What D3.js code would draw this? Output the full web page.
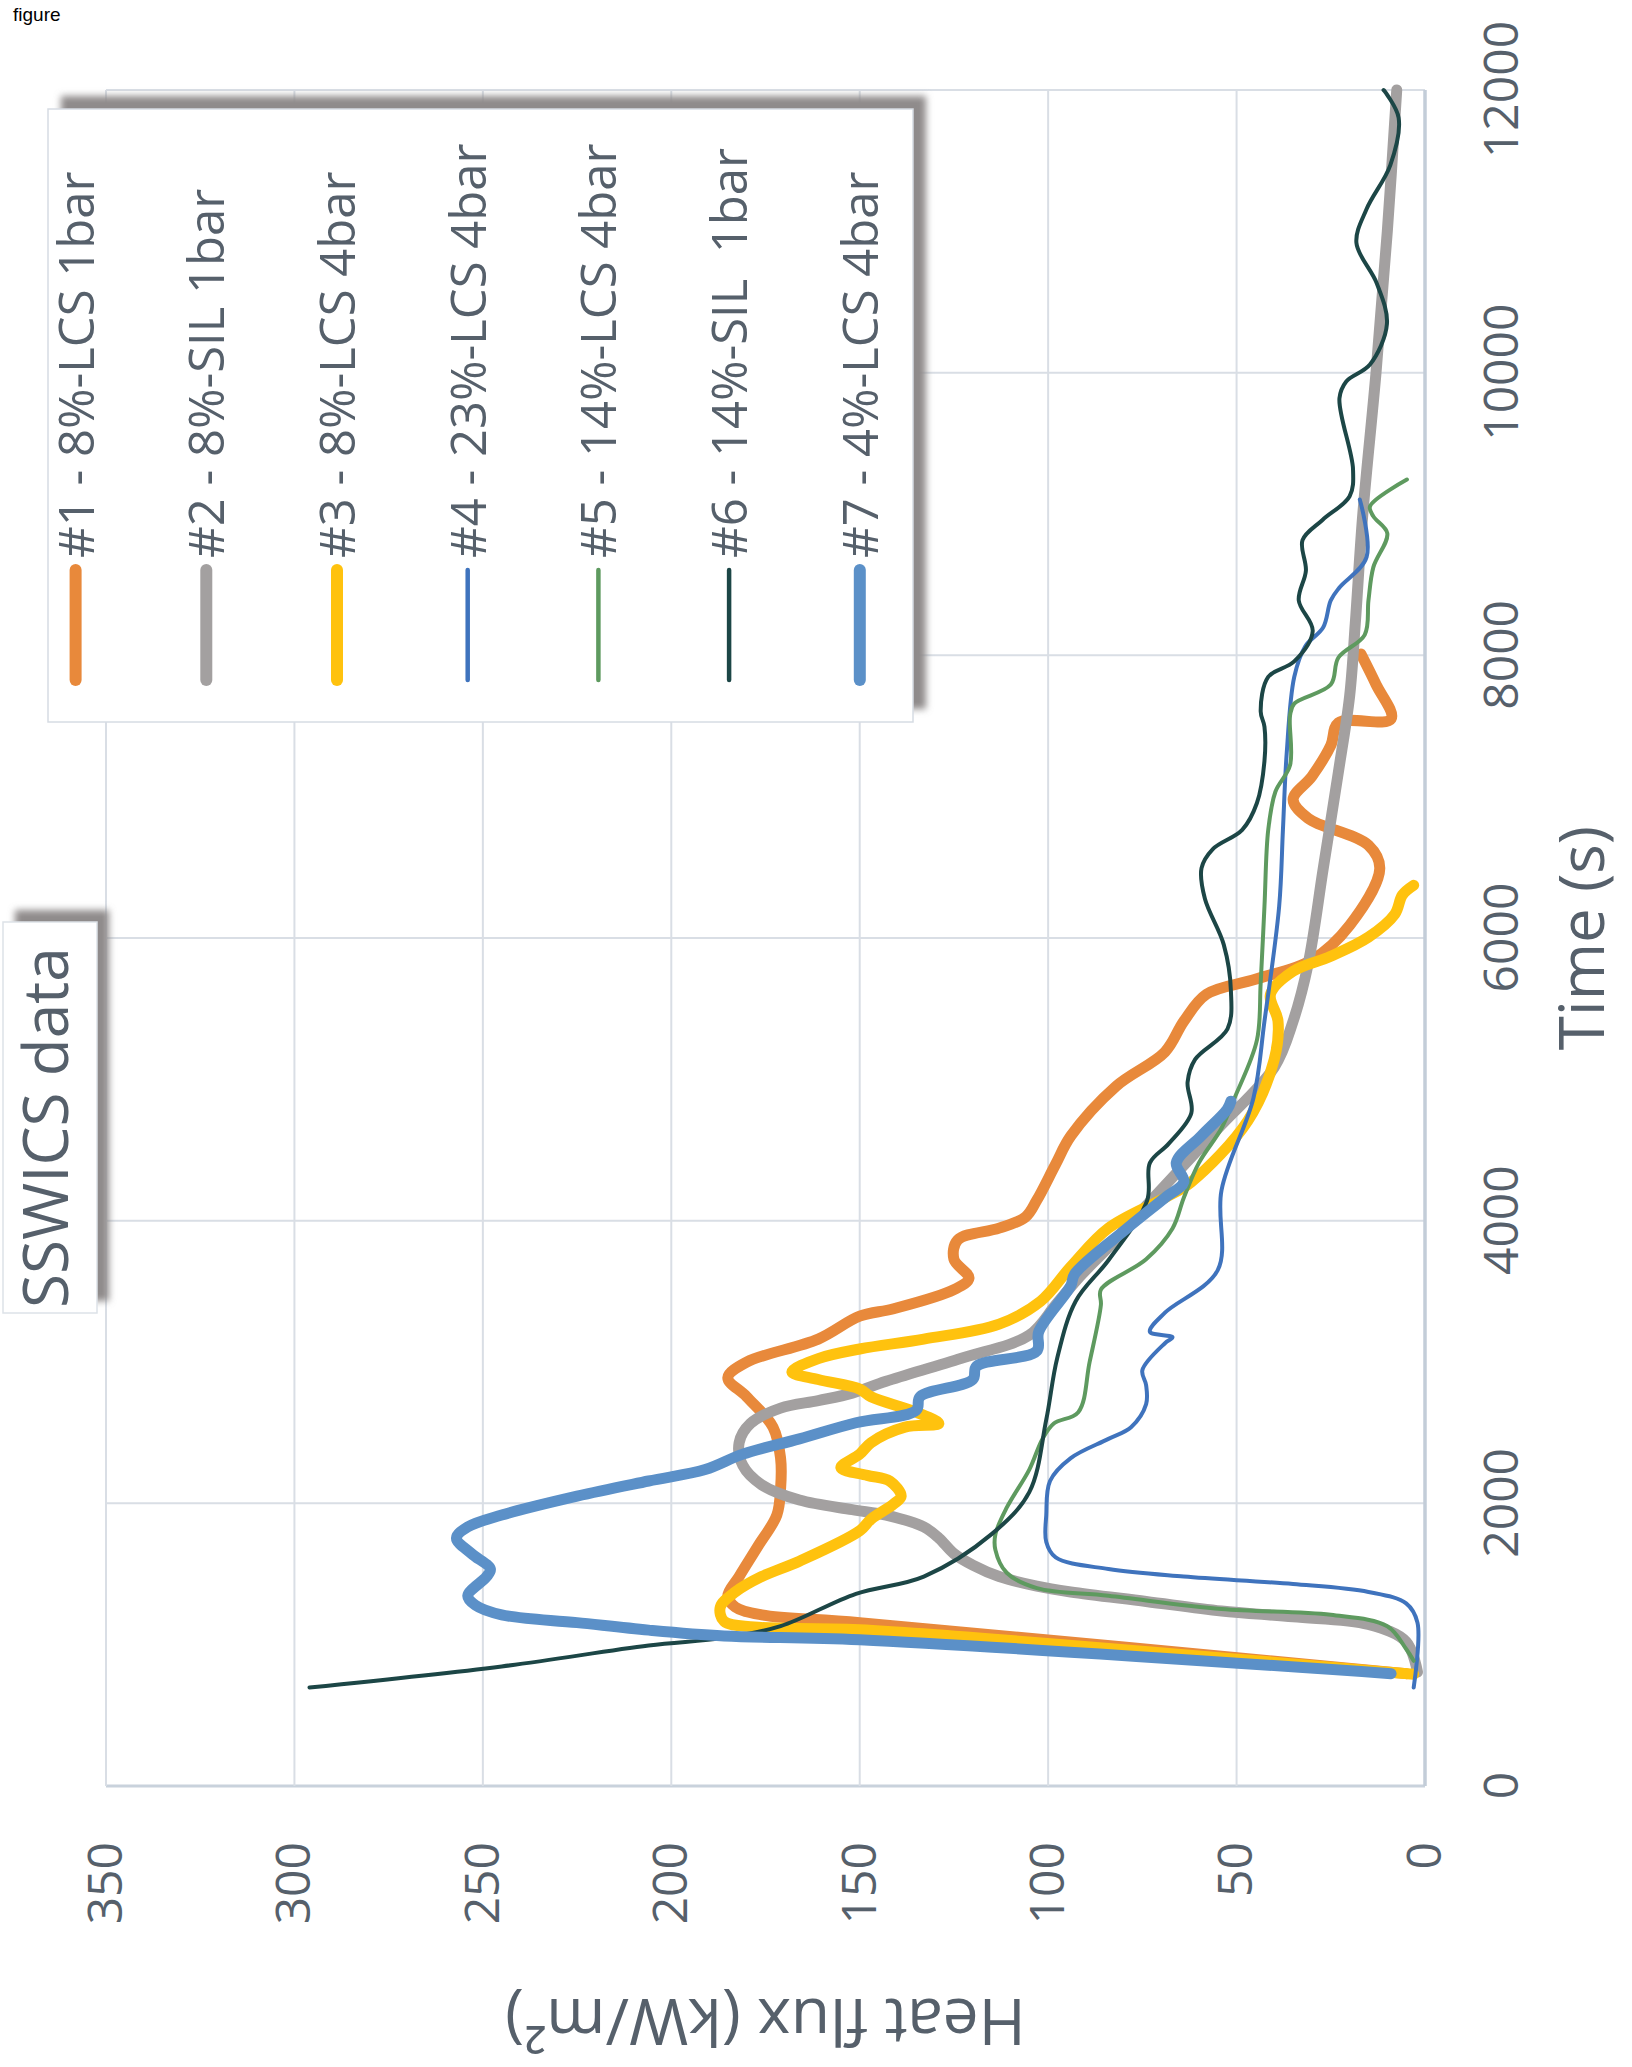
<!DOCTYPE html>
<html>
<head>
<meta charset="utf-8">
<script src="https://cdn.jsdelivr.net/npm/d3@7"></script>
<style>
  html, body { margin: 0; padding: 0; background: #ffffff; }
  svg { display: block; }
</style>
</head>
<body>
<svg id="chart" width="1632" height="2067"></svg>
<script>
// ---- data -------------------------------------------------------------
const timeTicks = [0, 2000, 4000, 6000, 8000, 10000, 12000];
const fluxTicks = [0, 50, 100, 150, 200, 250, 300, 350];

const seriesNames = [
  "#1 - 8%-LCS 1bar",
  "#2 - 8%-SIL 1bar",
  "#3 - 8%-LCS 4bar",
  "#4 - 23%-LCS 4bar",
  "#5 - 14%-LCS 4bar",
  "#6 - 14%-SIL  1bar",
  "#7 - 4%-LCS 4bar"
];

// [time (s), heat flux (kW/m2)]
const s1 = [[795,5],[1156,150],[1211,176],[1266,183],[1346,185],[1482,182],[1697,177],[1917,172],[2104,171],[2320,171],[2539,173],[2754,180],[2889,185],[2999,180],[3162,161],[3324,150],[3377,141],[3512,125],[3593,121],[3727,125],[3863,124],[3947,113],[4026,106],[4145,103],[4400,98],[4599,94],[4951,82],[5194,69],[5411,64],[5602,58],[5708,45],[5845,30],[6090,20],[6493,12],[6656,15],[6847,31],[6981,35],[7144,30],[7363,25],[7522,23],[7550,9],[7794,13],[8009,17]];
const s2 = [[806,2],[1021,5],[1143,15],[1197,35],[1238,54],[1306,74],[1373,94],[1414,103],[1482,113],[1563,120],[1644,125],[1754,129],[1833,133],[1917,143],[1955,152],[2023,166],[2131,176],[2267,181],[2429,182],[2565,179],[2674,171],[2727,161],[2780,152],[2864,143],[3027,123],[3190,105],[3404,98],[3593,92],[3812,84],[4162,72],[4650,55],[5086,40],[5411,35],[5817,31],[6493,27],[7171,23],[7712,20],[8226,18.5],[9000,16.5],[10000,13],[11000,10],[12000,7.5]];
const s3 = [[790,3],[1105,150],[1125,178],[1165,186],[1266,187],[1373,183],[1482,176],[1591,166],[1806,150],[1888,147],[1995,141],[2051,139],[2157,142],[2198,148],[2253,155],[2348,150],[2429,147],[2539,138],[2565,129],[2645,135],[2754,147],[2808,150],[2876,161],[2930,168],[3024,161],[3092,150],[3162,133],[3268,113],[3430,102],[3674,94],[3947,84],[4162,69],[4274,62],[4707,47],[5142,40],[5411,39],[5602,41],[5765,35],[5871,25],[6006,15],[6169,8],[6304,6],[6373,3]];
const s4 = [[697,3],[1156,2],[1292,5],[1373,15],[1429,35],[1482,64],[1535,84],[1617,98],[1726,100.5],[1917,100.5],[2158,99.5],[2320,94],[2456,84],[2539,78],[2702,74],[2836,74],[2942,75],[3133,69],[3175,67],[3214,73],[3349,69],[3650,55],[4215,54],[4870,45.5],[5411,42.6],[6224,38.7],[6765,37.7],[7306,36.7],[7847,34.7],[8063,31.8],[8199,27],[8389,25],[8480,22.7],[8695,15.5],[9103,17.3]];
const s5 = [[886,3],[969,5],[1130,10],[1211,25],[1252,54],[1346,84],[1400,103],[1509,111],[1671,114],[1780,114],[1969,111],[2239,105],[2456,101.5],[2565,98.5],[2645,92],[2999,89],[3404,86],[3512,86],[3727,74],[3945,67],[4162,64],[4409,60],[4654,54],[4870,50.5],[5277,44.6],[5682,43.6],[6224,42.6],[6765,41.6],[7035,39.7],[7224,35.8],[7577,35.8],[7658,34.7],[7793,25],[7983,23],[8145,16],[8389,15],[8624,13.7],[8863,10],[8983,13.7],[9054,14.6],[9244,4.8]];
const s6 = [[697,296],[846,245],[994,206],[1048,186],[1131,171],[1360,151],[1482,133],[1782,115],[2079,105],[2592,100.5],[3027,97.6],[3430,92.7],[3727,83.8],[4145,73.7],[4409,73],[4545,68],[4762,62],[4979,63],[5141,61],[5357,52.4],[5627,51.5],[5953,53.4],[6277,58.4],[6494,59.3],[6629,56.3],[6765,48.5],[6955,44.6],[7252,42.6],[7495,42.6],[7603,43.6],[7847,41.6],[7957,34.7],[8172,29.8],[8389,33.5],[8600,31.6],[8815,32.5],[8958,27.2],[9126,20],[9317,19.1],[9819,22.7],[9938,20.9],[10058,14.6],[10345,10.1],[10632,12.8],[10918,18.2],[11158,15.5],[11469,9.2],[11804,7],[12000,11]];
const s7 = [[795,9],[1035,150],[1062,186],[1103,206],[1156,225],[1211,245],[1280,252],[1346,254],[1482,249],[1535,248],[1644,253],[1754,257],[1833,254],[1917,245],[2051,225],[2158,206],[2239,191],[2348,181],[2456,166],[2570,151],[2659,135],[2754,134],[2876,120],[2970,119],[3079,103],[3214,102.5],[3539,94],[3621,93],[3947,79],[4162,69],[4274,64],[4409,66],[4599,59.4],[4788,52.5],[4845,51.5]];

const seriesData = [s1, s2, s3, s4, s5, s6, s7];

// ---- style -------------------------------------------------------------
const seriesColors = ["#E8893B", "#A3A0A0", "#FFC20E", "#3F73BD", "#5E9A5F", "#1C4646", "#5B90C8"];
const seriesWidths = [11, 11, 11, 4, 4, 4, 11];
const textColor = "#56606b";
const font = "'Open Sans', 'Noto Sans', sans-serif";

// ---- layout (chart is drawn in its own frame, then turned a quarter turn) ----
const svg = d3.select("#chart");
const PAGE_H = 2067;

svg.append("text")
  .attr("x", 13).attr("y", 21)
  .attr("font-family", "'Liberation Sans', Arial, sans-serif")
  .attr("font-size", 19)
  .attr("fill", "#000")
  .text("figure");

const defs = svg.append("defs");
defs.append("filter").attr("id", "soft")
  .attr("x", "-10%").attr("y", "-10%").attr("width", "120%").attr("height", "120%")
  .append("feGaussianBlur").attr("stdDeviation", 3.5);

const root = svg.append("g")
  .attr("transform", `translate(0,${PAGE_H}) rotate(-90)`);

const x = d3.scaleLinear().domain([0, 12000]).range([281, 1977]);
const y = d3.scaleLinear().domain([0, 350]).range([1425, 106]);

// gridlines
const grid = root.append("g");
grid.selectAll("line.tg").data(timeTicks).join("line")
  .attr("x1", d => x(d)).attr("x2", d => x(d))
  .attr("y1", y(0)).attr("y2", y(350))
  .attr("stroke", d => d === 0 ? "#c9d2dc" : "#d9dee5")
  .attr("stroke-width", d => d === 0 ? 3 : 2);
grid.selectAll("line.fg").data(fluxTicks).join("line")
  .attr("x1", x(0)).attr("x2", x(12000))
  .attr("y1", d => y(d)).attr("y2", d => y(d))
  .attr("stroke", d => d === 0 ? "#c3cdd8" : "#d9dee5")
  .attr("stroke-width", d => d === 0 ? 3.5 : 2);

// axes
const xAxis = root.append("g")
  .attr("transform", `translate(0,${y(0)})`)
  .call(d3.axisBottom(x).tickValues(timeTicks).tickSize(0).tickPadding(59).tickFormat(d3.format("d")));
const yAxis = root.append("g")
  .attr("transform", `translate(${x(0)},0)`)
  .call(d3.axisLeft(y).tickValues(fluxTicks).tickSize(0).tickPadding(56).tickFormat(d3.format("d")));
[xAxis, yAxis].forEach(a => {
  a.select(".domain").remove();
  a.selectAll("text")
    .attr("font-family", font)
    .attr("font-size", 48)
    .attr("fill", textColor);
});

// axis titles
root.append("text")
  .attr("x", (x(0) + x(12000)) / 2).attr("y", 1604)
  .attr("text-anchor", "middle")
  .attr("font-family", font).attr("font-size", 62).attr("fill", textColor)
  .text("Time (s)");
root.append("text")
  .attr("transform", `translate(68,${(y(0) + y(350)) / 2}) rotate(-90)`)
  .attr("text-anchor", "middle")
  .attr("font-family", font).attr("font-size", 64).attr("fill", textColor)
  .text("Heat flux (kW/m²)");

// series
const line = d3.line()
  .x(d => x(d[0]))
  .y(d => y(d[1]))
  .curve(d3.curveCatmullRom.alpha(0.5));
root.append("g").selectAll("path").data(seriesData).join("path")
  .attr("d", line)
  .attr("fill", "none")
  .attr("stroke", (d, i) => seriesColors[i])
  .attr("stroke-width", (d, i) => seriesWidths[i])
  .attr("stroke-linejoin", "round")
  .attr("stroke-linecap", "round");

// chart title box
const title = root.append("g");
title.append("rect")
  .attr("x", 766).attr("y", 15).attr("width", 391).attr("height", 94)
  .attr("fill", "#8f8b8b").attr("filter", "url(#soft)");
title.append("rect")
  .attr("x", 754).attr("y", 3).attr("width", 391).attr("height", 94)
  .attr("fill", "#ffffff").attr("stroke", "#dde2e8").attr("stroke-width", 1.5);
title.append("text")
  .attr("x", 759).attr("y", 68)
  .attr("font-family", font).attr("font-size", 62).attr("fill", textColor)
  .text("SSWICS data");

// legend
const legend = root.append("g");
const lgU0 = 1345, lgU1 = 1958, lgV0 = 48, lgV1 = 913;
legend.append("rect")
  .attr("x", lgU0 + 13).attr("y", lgV0 + 13)
  .attr("width", lgU1 - lgU0).attr("height", lgV1 - lgV0)
  .attr("fill", "#8f8b8b").attr("filter", "url(#soft)");
legend.append("rect")
  .attr("x", lgU0).attr("y", lgV0)
  .attr("width", lgU1 - lgU0).attr("height", lgV1 - lgV0)
  .attr("fill", "#ffffff").attr("stroke", "#d6dce3").attr("stroke-width", 1.5);
const rows = legend.selectAll("g.row").data(seriesNames).join("g")
  .attr("transform", (d, i) => `translate(0,${75.6 + i * 130.7})`);
rows.append("line")
  .attr("x1", 1387).attr("x2", 1497).attr("y1", 0).attr("y2", 0)
  .attr("stroke", (d, i) => seriesColors[i])
  .attr("stroke-width", (d, i) => seriesWidths[i] > 5 ? 12 : 4.5)
  .attr("stroke-linecap", "round");
rows.append("text")
  .attr("x", 1509).attr("y", 18)
  .attr("font-family", font).attr("font-size", 49).attr("fill", textColor)
  .attr("xml:space", "preserve")
  .style("white-space", "pre")
  .text(d => d);
</script>
</body>
</html>
